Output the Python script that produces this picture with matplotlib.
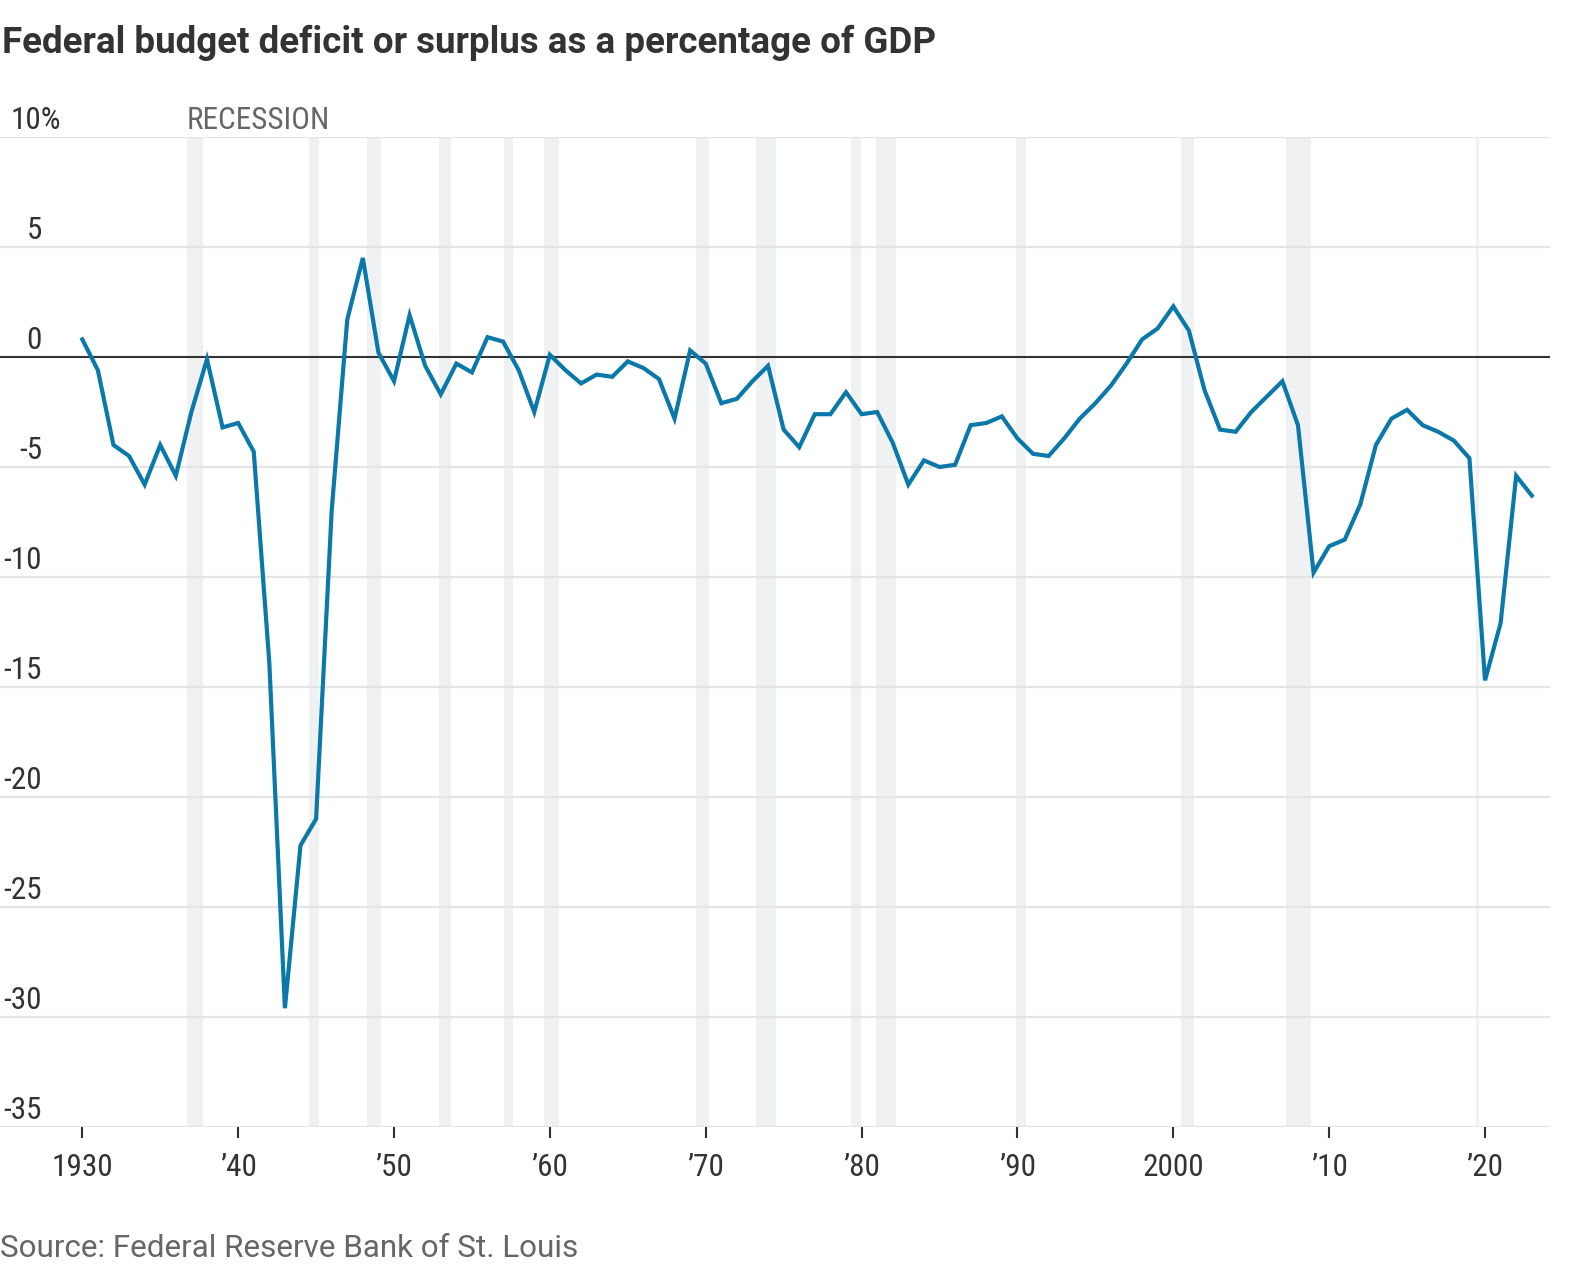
# Federal budget deficit or surplus as a share of GDP, with recession bands
import matplotlib
matplotlib.use("Agg")
import matplotlib.pyplot as plt
from matplotlib import font_manager
from matplotlib.transforms import offset_copy

# Data (percent of GDP, fiscal years 1930-2023)
years = list(range(1930, 2024))
balance = [0.8, -0.6, -4.0, -4.5, -5.8, -4.0, -5.4, -2.5, -0.1, -3.2,
           -3.0, -4.3, -13.9, -29.6, -22.2, -21.0, -7.0, 1.7, 4.5, 0.2,
           -1.1, 1.9, -0.4, -1.7, -0.3, -0.7, 0.9, 0.7, -0.6, -2.5,
           0.1, -0.6, -1.2, -0.8, -0.9, -0.2, -0.5, -1.0, -2.8, 0.3,
           -0.3, -2.1, -1.9, -1.1, -0.4, -3.3, -4.1, -2.6, -2.6, -1.6,
           -2.6, -2.5, -3.9, -5.8, -4.7, -5.0, -4.9, -3.1, -3.0, -2.7,
           -3.7, -4.4, -4.5, -3.7, -2.8, -2.1, -1.3, -0.3, 0.8, 1.3,
           2.3, 1.2, -1.5, -3.3, -3.4, -2.5, -1.8, -1.1, -3.1, -9.8,
           -8.6, -8.3, -6.7, -4.0, -2.8, -2.4, -3.1, -3.4, -3.8, -4.6,
           -14.7, -12.1, -5.4, -6.3]

# Recession periods as drawn (start, end)
rec_start = [1936.70, 1944.55, 1948.25, 1952.91, 1957.06, 1959.64, 1969.38,
             1973.23, 1979.32, 1980.92, 1989.91, 2000.50, 2007.24, 2019.42]
rec_end = [1937.77, 1945.19, 1949.15, 1953.64, 1957.66, 1960.57, 1970.21,
           1974.51, 1979.96, 1982.21, 1990.55, 2001.33, 2008.84, 2019.61]

yticks = [10, 5, 0, -5, -10, -15, -20, -25, -30, -35]
xticks = [1930, 1940, 1950, 1960, 1970, 1980, 1990, 2000, 2010, 2020]
xlabels = ["1930", "\u201940", "\u201950", "\u201960", "\u201970",
           "\u201980", "\u201990", "2000", "\u201910", "\u201920"]

title = "Federal budget deficit or surplus as a percentage of GDP"
source = "Source: Federal Reserve Bank of St. Louis"

# Fonts: narrow one for the numbers, regular one for title and source
installed = {f.name for f in font_manager.fontManager.ttflist}
def pick(names):
    for n in names:
        if n in installed:
            return n
    return "DejaVu Sans"
narrow = pick(["Roboto Condensed", "Liberation Sans Narrow", "Roboto"])
regular = pick(["Roboto", "Liberation Sans"])
plt.rcParams["font.family"] = [narrow, "DejaVu Sans"]

W, H = 1596, 1274
fig = plt.figure(figsize=(W / 100, H / 100), dpi=100)
ax = fig.add_axes([0, (H - 1127) / H, 1550 / W, (1127 - 137) / H])

ax.set_xlim(1924.72, 2024.17)
ax.set_ylim(-35, 10)

# Recession bands
for s, e in zip(rec_start, rec_end):
    ax.axvspan(s, e, color="#f0f1f3", lw=0, zorder=0)

# Gridlines and zero line
for y in yticks:
    if y == 0:
        ax.axhline(y, color="#333333", lw=1.5, zorder=2)
    else:
        ax.axhline(y, color="#e4e4e4", lw=1.6, zorder=1)

ax.plot(years, balance, color="#0b78aa", lw=3.0, zorder=3,
        solid_joinstyle="miter")

# Axes styling
for sp in ax.spines.values():
    sp.set_visible(False)
ax.set_yticks([])
ax.set_xticks(xticks)
ax.set_xticklabels(xlabels)
ax.tick_params(axis="x", length=8, width=1.5, color="#333333",
               labelsize=22.5, labelcolor="#333333", pad=11)

# Y labels sit above their gridlines, right aligned
ytrans = offset_copy(ax.get_yaxis_transform(), fig=fig, x=0, y=8, units="dots")
for y in yticks:
    if y == 10:
        ax.text(11 / 1550, y, "10%", transform=ytrans, ha="left",
                va="baseline", fontsize=22.5, color="#333333")
    else:
        ax.text(42 / 1550, y, str(y), transform=ytrans, ha="right",
                va="baseline", fontsize=22.5, color="#333333")

rtrans = offset_copy(ax.transData, fig=fig, x=0, y=8, units="dots")
ax.text(rec_start[0], 10, "RECESSION", transform=rtrans, ha="left",
        va="baseline", fontsize=22.5, color="#666666")

fig.text(2 / W, 1 - 53 / H, title, ha="left", va="baseline",
         fontsize=26.5, fontweight="bold", color="#333333", family=regular)
fig.text(0 / W, 1 - 1257 / H, source, ha="left", va="baseline",
         fontsize=22.6, color="#666666", family=regular)

fig.savefig("out.png", dpi=100)
